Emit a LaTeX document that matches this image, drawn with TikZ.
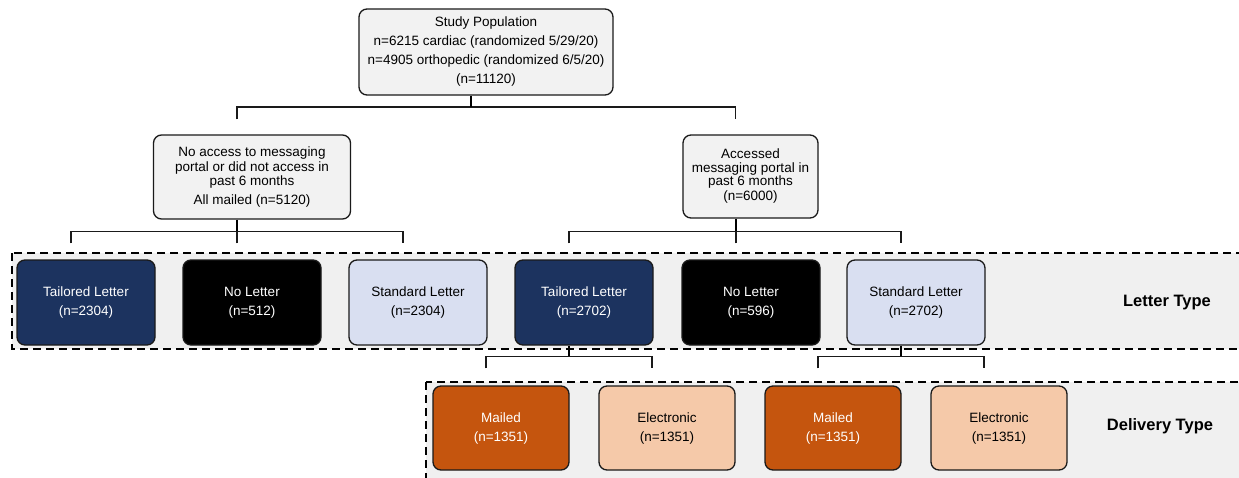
\documentclass[tikz,border=0pt]{standalone}
\usepackage{fontspec}
\setmainfont{Liberation Sans}
\usetikzlibrary{calc}
\definecolor{boxgray}{HTML}{F2F2F2}
\definecolor{regiongray}{HTML}{F0F0F0}
\definecolor{navy}{HTML}{1C335F}
\definecolor{lavender}{HTML}{D9DFF1}
\definecolor{burnt}{HTML}{C5550E}
\definecolor{peach}{HTML}{F5C9A9}
\definecolor{edge}{HTML}{1A1A1A}
\tikzset{
  basebox/.style={draw=edge, line width=1.3pt, rounded corners=8pt, align=center, inner sep=0pt,
    font=\fontsize{13.5}{19}\selectfont},
  graybox/.style={basebox, fill=boxgray, text=black},
  tailbox/.style={basebox, fill=navy, text=white, minimum width=138pt, minimum height=85pt},
  nobox/.style={basebox, fill=black, text=white, minimum width=138pt, minimum height=85pt},
  stdbox/.style={basebox, fill=lavender, text=black, minimum width=138pt, minimum height=85pt},
  mailbox/.style={basebox, fill=burnt, text=white, minimum width=136pt, minimum height=84pt},
  elecbox/.style={basebox, fill=peach, text=black, minimum width=136pt, minimum height=84pt},
  region/.style={draw=black, line width=1.4pt, dash pattern=on 8pt off 5pt, fill=regiongray},
  conn/.style={draw=edge, line width=1.3pt},
  stem/.style={draw=black, line width=2pt},
  rowlabel/.style={font=\bfseries\fontsize{16.5}{20}\selectfont, text=black, inner sep=0pt}
}
\begin{document}
\begin{tikzpicture}[x=1pt,y=-1pt]
\useasboundingbox (0,0) rectangle (1239,477);
\fill[white] (0,0) rectangle (1239,477);

% regions
\begin{scope}
\clip (0,0) rectangle (1239,477);
\path[region] (12,253) rectangle (1260,349);
\path[region] (426,382) rectangle (1260,500);
\end{scope}

% top
\node[graybox, minimum width=254pt, minimum height=86pt] (top) at (486,52)
  {Study Population\\n=6215 cardiac (randomized 5/29/20)\\n=4905 orthopedic (randomized 6/5/20)\\(n=11120)};

\node[graybox, minimum width=197pt, minimum height=84pt, font=\fontsize{13.5}{14.5}\selectfont] (L) at (252,177)
  {No access to messaging\\portal or did not access in\\past 6 months\\[4pt]All mailed (n=5120)};

\node[graybox, minimum width=135pt, minimum height=83pt, font=\fontsize{13.5}{13.5}\selectfont] (R) at (750.5,176.5)
  {Accessed\\messaging portal in\\past 6 months\\[1.5pt](n=6000)};

% letter row
\node[tailbox] (T1) at (86,302.5) {Tailored Letter\\(n=2304)};
\node[nobox] (N1) at (252,302.5) {No Letter\\(n=512)};
\node[stdbox] (S1) at (418,302.5) {Standard Letter\\(n=2304)};
\node[tailbox] (T2) at (584,302.5) {Tailored Letter\\(n=2702)};
\node[nobox] (N2) at (751,302.5) {No Letter\\(n=596)};
\node[stdbox] (S2) at (916,302.5) {Standard Letter\\(n=2702)};
\node[rowlabel] (lt) at (1167,303) {Letter Type};

% delivery row
\node[mailbox] (M1) at (501,428) {Mailed\\(n=1351)};
\node[elecbox] (E1) at (667,428) {Electronic\\(n=1351)};
\node[mailbox] (M2) at (833,428) {Mailed\\(n=1351)};
\node[elecbox] (E2) at (999,428) {Electronic\\(n=1351)};
\node[rowlabel] (dt) at (1160,426) {Delivery Type};

% connectors: top
\coordinate (h0) at ([yshift=27.5pt]L.north);
\draw[conn] ([xshift=-15pt,yshift=15pt]L.north) -- ([xshift=-15pt,yshift=27.5pt]L.north)
  -- ([xshift=-15pt,yshift=27.5pt]R.north) -- ([xshift=-15pt,yshift=15pt]R.north);
\draw[stem] ([xshift=-15pt]top.south) -- ([xshift=-15pt]top.south |- h0);

% connectors: left branch
\coordinate (h1) at ([yshift=28pt]N1.north);
\draw[conn] ([xshift=-15pt,yshift=16pt]T1.north) -- ([xshift=-15pt,yshift=28pt]T1.north)
  -- ([xshift=-15pt,yshift=28pt]S1.north) -- ([xshift=-15pt,yshift=16pt]S1.north);
\draw[conn] ([xshift=-15pt,yshift=16pt]N1.north) -- ([xshift=-15pt,yshift=28pt]N1.north);
\draw[stem] ([xshift=-15pt]L.south) -- ([xshift=-15pt]L.south |- h1);

% connectors: right branch
\draw[conn] ([xshift=-15pt,yshift=16pt]T2.north) -- ([xshift=-15pt,yshift=28pt]T2.north)
  -- ([xshift=-15pt,yshift=28pt]S2.north) -- ([xshift=-15pt,yshift=16pt]S2.north);
\draw[conn] ([xshift=-15pt,yshift=16pt]N2.north) -- ([xshift=-15pt,yshift=28pt]N2.north);
\draw[stem] ([xshift=-15pt]R.south) -- ([xshift=-15pt]R.south |- h1);

% connectors: delivery
\coordinate (h2) at ([yshift=29pt]M1.north);
\draw[conn] ([xshift=-15pt,yshift=17pt]M1.north) -- ([xshift=-15pt,yshift=29pt]M1.north)
  -- ([xshift=-15pt,yshift=29pt]E1.north) -- ([xshift=-15pt,yshift=17pt]E1.north);
\draw[stem] ([xshift=-15pt]T2.south) -- ([xshift=-15pt]T2.south |- h2);
\draw[conn] ([xshift=-15pt,yshift=17pt]M2.north) -- ([xshift=-15pt,yshift=29pt]M2.north)
  -- ([xshift=-15pt,yshift=29pt]E2.north) -- ([xshift=-15pt,yshift=17pt]E2.north);
\draw[stem] ([xshift=-15pt]S2.south) -- ([xshift=-15pt]S2.south |- h2);
\end{tikzpicture}
\end{document}
